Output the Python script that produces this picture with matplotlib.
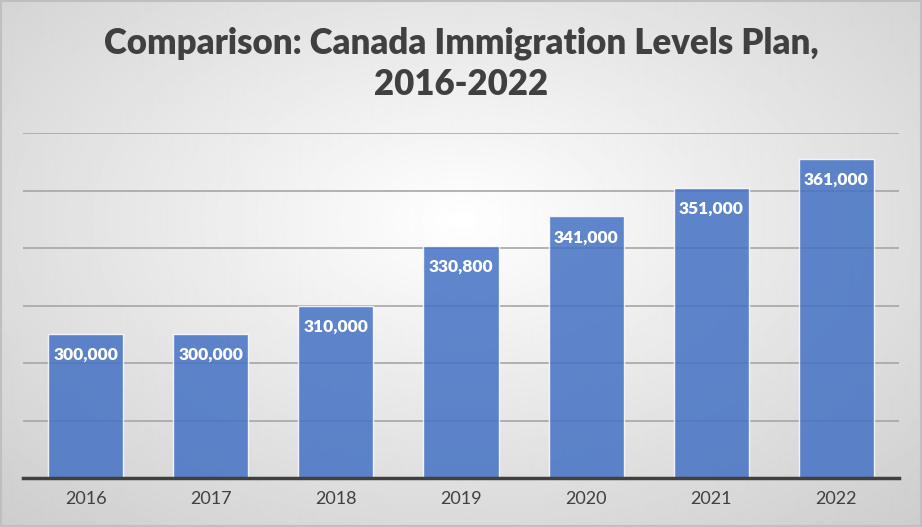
"""
Canada immigration levels plan, 2016-2022, as a column chart
"""

import matplotlib.pyplot as plt
import numpy as np
from matplotlib.patches import Rectangle

years = ["2016", "2017", "2018", "2019", "2020", "2021", "2022"]
targets = [300000, 300000, 310000, 330800, 341000, 351000, 361000]
value_labels = ["300,000", "300,000", "310,000", "330,800", "341,000", "351,000", "361,000"]

plt.rcParams["font.family"] = ["Lato", "DejaVu Sans"]

fig = plt.figure(figsize=(9.22, 5.27), dpi=100)

# radial grey gradient behind everything
bg = fig.add_axes([0, 0, 1, 1], zorder=-10)
yy, xx = np.mgrid[0:527, 0:922]
r = np.sqrt(((xx - 461) / 700.0) ** 2 + ((yy - 220) / 420.0) ** 2)
shade = 1.0 - 0.2 * np.clip(r, 0, 1)
bg.imshow(shade, cmap="gray", vmin=0, vmax=1, aspect="auto", interpolation="bilinear")
bg.axis("off")

ax = fig.add_axes([23 / 922, 1 - 478 / 527, 876 / 922, 345 / 527])
ax.patch.set_alpha(0)

x = np.arange(len(years))
bars = ax.bar(x, targets, width=0.6, color="#4472C4", alpha=0.85,
              edgecolor="white", linewidth=1, zorder=3)

for xi, val, lab in zip(x, targets, value_labels):
    ax.annotate(lab, (xi, val), xytext=(0, -15), textcoords="offset points",
                ha="center", va="center", color="white", fontsize=12.5,
                fontweight="heavy", zorder=4)

ax.set_ylim(250000, 370000)
ax.set_xlim(-0.5, len(years) - 0.5)
ax.set_yticks(np.arange(250000, 370001, 20000))
ax.yaxis.grid(True, color="#a6a6a6", linewidth=1.2, zorder=0)
ax.tick_params(axis="y", left=False, labelleft=False)
ax.set_xticks(x, years)
ax.tick_params(axis="x", length=0, pad=9, labelsize=13, labelcolor="#404040")
for side in ["top", "right", "left"]:
    ax.spines[side].set_visible(False)
ax.spines["bottom"].set_color("#404040")
ax.spines["bottom"].set_linewidth(2.5)
ax.spines["bottom"].set_zorder(5)

fig.text(0.5, 0.879, "Comparison: Canada Immigration Levels Plan,\n2016-2022",
         ha="center", va="center", fontsize=25, fontweight="heavy",
         color="#404040", linespacing=1.3)

fig.patches.append(Rectangle((0.001, 0.001), 0.998, 0.998, transform=fig.transFigure,
                             fill=False, edgecolor="#bfbfbf", linewidth=1.5))

fig.savefig("out.png", dpi=100)
plt.close(fig)
